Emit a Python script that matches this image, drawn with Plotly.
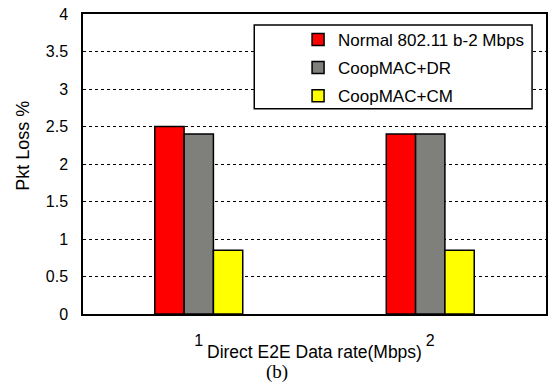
import plotly.graph_objects as go

categories = ["1", "2"]
normal = [2.5, 2.4]
coop_dr = [2.4, 2.4]
coop_cm = [0.85, 0.85]
series_names = ["Normal 802.11 b-2 Mbps", "CoopMAC+DR", "CoopMAC+CM"]
colors = ["#ff0000", "#7f807c", "#ffff00"]
y_ticks = [0, 0.5, 1, 1.5, 2, 2.5, 3, 3.5, 4]
y_tick_labels = ["0", "0.5", "1", "1.5", "2", "2.5", "3", "3.5", "4"]

FONT = "Liberation Sans, Arial, sans-serif"

fig = go.Figure()
for i, (name, vals) in enumerate(zip(series_names, [normal, coop_dr, coop_cm])):
    fig.add_trace(go.Bar(
        x=categories, y=vals, name=name, legendgroup=f"g{i}",
        marker=dict(color=colors[i], line=dict(color="black", width=1.5)),
    ))

W, H = 554, 387
ml, mr, mt, mb = 83, 6, 13, 73
pw, ph = W - ml - mr, H - mt - mb

def px_x(x):
    return (x - ml) / pw

def px_y(y):
    return (H - mb - y) / ph

fig.update_layout(
    width=W, height=H,
    margin=dict(l=ml, r=mr, t=mt, b=mb),
    paper_bgcolor="white", plot_bgcolor="white",
    barmode="group", bargap=0.62, bargroupgap=0,
    font=dict(family=FONT, color="black"),
    showlegend=True,
    legend=dict(
        x=px_x(531), xanchor="right", y=px_y(21), yanchor="top",
        bgcolor="rgba(0,0,0,0)", borderwidth=0,
        font=dict(size=17, family=FONT, color="black"),
        tracegroupgap=3, itemwidth=30,
    ),
    xaxis=dict(
        type="category", range=[-0.5, 1.5],
        showline=True, linecolor="black", linewidth=1.5, mirror=True,
        showgrid=False, ticks="", ticklabelstandoff=11,
        tickfont=dict(size=16, family=FONT),
    ),
    yaxis=dict(
        range=[0, 4], tickvals=y_ticks, ticktext=y_tick_labels,
        showline=True, linecolor="black", linewidth=1.5, mirror=True,
        showgrid=True, gridcolor="black", griddash="dot", gridwidth=1,
        ticks="", ticklabelstandoff=10, zeroline=False,
        tickfont=dict(size=16, family=FONT),
    ),
    shapes=[dict(
        type="rect", xref="paper", yref="paper",
        x0=px_x(255), x1=px_x(534), y0=px_y(108), y1=px_y(24),
        line=dict(color="black", width=1.5), fillcolor="white", layer="above",
    )],
    annotations=[
        dict(text="Direct E2E Data rate(Mbps)", xref="paper", yref="paper",
             x=px_x(315), y=px_y(352), xanchor="center", yanchor="middle",
             showarrow=False, font=dict(size=17.5, family=FONT)),
        dict(text="(b)", xref="paper", yref="paper",
             x=px_x(278), y=px_y(372), xanchor="center", yanchor="middle",
             showarrow=False, font=dict(size=19, family="Liberation Serif, Times New Roman, serif")),
        dict(text="Pkt Loss %", xref="paper", yref="paper",
             x=px_x(22), y=px_y(145), xanchor="center", yanchor="middle",
             textangle=-90, showarrow=False, font=dict(size=18, family=FONT)),
    ],
)

fig.write_html("out.html", config={"displayModeBar": False},
               post_script="document.body.style.margin='0';document.body.style.overflow='hidden';")
